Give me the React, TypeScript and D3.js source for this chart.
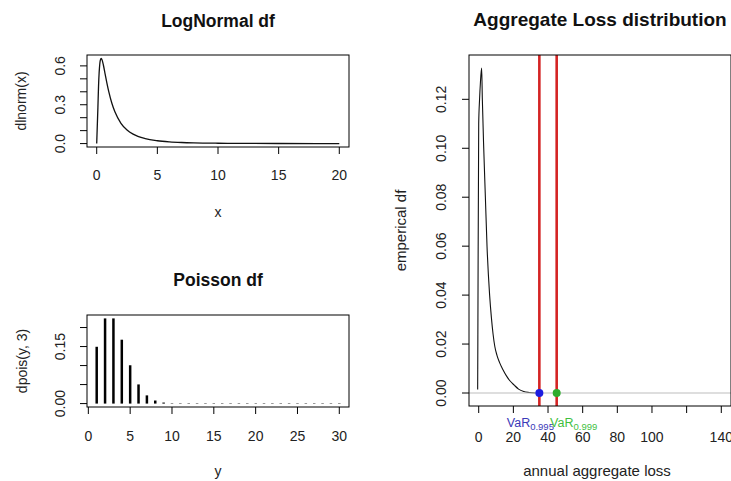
import React from 'react';
import * as d3 from 'd3';

// LogNormal density
const lnX = [0, 0.1, 0.15, 0.2, 0.25, 0.3, 0.37, 0.45, 0.55, 0.7, 0.85, 1, 1.25, 1.5, 2, 2.5, 3, 4, 5, 6, 7, 8, 10, 12, 15, 20];
const lnY = [0, 0.2815, 0.4399, 0.5463, 0.6105, 0.6442, 0.6577, 0.6445, 0.6067, 0.5348, 0.4632, 0.3989, 0.3113, 0.245, 0.1569, 0.1049, 0.0727, 0.0382, 0.0219, 0.0134, 0.0086, 0.0057, 0.0028, 0.0015, 0.0007, 0.0002];

// Poisson(3) probabilities for y = 1..30
const poisY = d3.range(1, 31);
const poisP = [0.1494, 0.224, 0.224, 0.168, 0.1008, 0.0504, 0.0216, 0.0081, 0.0027, 0.0008, 0.0002, 0.00006, 0.00001, 0, 0, 0, 0, 0, 0, 0, 0, 0, 0, 0, 0, 0, 0, 0, 0, 0];

// empirical aggregate loss density
const aggX = [-0.6, -0.5, 0, 0.5, 1, 1.7, 2.1, 2.9, 3.85, 4.8, 6.3, 7.3, 8.3, 9.3, 10.5, 12, 14, 16, 18, 20.5, 23, 26, 29, 33];
const aggY = [0.0014, 0.02, 0.11, 0.12, 0.127, 0.1328, 0.12, 0.1, 0.08, 0.06, 0.04, 0.031, 0.024, 0.019, 0.0155, 0.0125, 0.0095, 0.007, 0.005, 0.0032, 0.0016, 0.0006, 0.0002, 0];
const var995 = 35;
const var999 = 45;

// ticks / labels
const lnXTicks = [0, 5, 10, 15, 20];
const lnYTicks = [0, 0.1, 0.2, 0.3, 0.4, 0.5, 0.6];
const lnYLabels = ['0.0', '0.3', '0.6'];
const poXTicks = [0, 5, 10, 15, 20, 25, 30];
const poYTicks = [0, 0.05, 0.1, 0.15, 0.2];
const poYLabels = ['0.00', '0.15'];
const agXTicks = [0, 20, 40, 60, 80, 100, 120, 140];
const agXLabels = ['0', '20', '40', '60', '80', '100', '140'];
const agYTicks = [0, 0.02, 0.04, 0.06, 0.08, 0.1, 0.12];

const FONT = '"Liberation Sans", Arial, sans-serif';

// R's default 4% axis padding
const rRange = (lo: number, hi: number): [number, number] => {
  const pad = (hi - lo) * 0.04;
  return [lo - pad, hi + pad];
};

type Box = { left: number; right: number; top: number; bottom: number };

const Frame = ({ b }: { b: Box }) => (
  <rect x={b.left} y={b.top} width={b.right - b.left} height={b.bottom - b.top} fill="none" stroke="#000" strokeWidth={1} />
);

const XAxis = ({ b, scale, ticks, labels, base }: any) => (
  <g>
    {ticks.map((t: number) => (
      <line key={t} x1={scale(t)} x2={scale(t)} y1={b.bottom} y2={b.bottom + 7} stroke="#000" />
    ))}
    {ticks.map((t: number, i: number) => {
      const lab = labels ? labels.find((l: string) => +l === t) : String(t);
      if (lab === undefined) return null;
      return (
        <text key={'l' + i} x={scale(t)} y={base} textAnchor="middle" fontSize={14} fontFamily={FONT} fill="#222">
          {lab}
        </text>
      );
    })}
  </g>
);

const YAxis = ({ b, scale, ticks, labels, base }: any) => (
  <g>
    {ticks.map((t: number) => (
      <line key={t} x1={b.left - 7} x2={b.left} y1={scale(t)} y2={scale(t)} stroke="#000" />
    ))}
    {ticks.map((t: number, i: number) => {
      const lab = labels ? labels.find((l: string) => Math.abs(+l - t) < 1e-9) : t.toFixed(2);
      if (lab === undefined) return null;
      return (
        <text key={'l' + i} transform={`translate(${base},${scale(t)}) rotate(-90)`} textAnchor="middle" fontSize={14} fontFamily={FONT} fill="#222">
          {lab}
        </text>
      );
    })}
  </g>
);

const App = () => {
  const bLN: Box = { left: 87, right: 349, top: 55, bottom: 147 };
  const bPo: Box = { left: 87, right: 349, top: 315, bottom: 407 };
  const bAg: Box = { left: 469, right: 731, top: 55, bottom: 406 };

  const lnx = d3.scaleLinear().domain(rRange(0, 20)).range([bLN.left, bLN.right]);
  const lny = d3.scaleLinear().domain(rRange(0, d3.max(lnY)!)).range([bLN.bottom, bLN.top]);
  const pox = d3.scaleLinear().domain(rRange(1, 30)).range([bPo.left, bPo.right]);
  const poy = d3.scaleLinear().domain(rRange(0, d3.max(poisP)!)).range([bPo.bottom, bPo.top]);
  const agx = d3.scaleLinear().domain(rRange(0, 140)).range([bAg.left, bAg.right]);
  const agy = d3.scaleLinear().domain(rRange(0, d3.max(aggY)!)).range([bAg.bottom, bAg.top]);

  const lnLine = d3.line<number>().x((_, i) => lnx(lnX[i])).y((d) => lny(d)).curve(d3.curveMonotoneX);
  const agLine = d3.line<number>().x((_, i) => agx(aggX[i])).y((d) => agy(d)).curve(d3.curveMonotoneX);

  const midLN = (bLN.left + bLN.right) / 2;
  const midAg = (bAg.left + bAg.right) / 2;

  return (
    <svg width={731} height={481} style={{ position: 'absolute', left: 0, top: 0, background: '#fff' }}>
      <defs>
        <clipPath id="agclip">
          <rect x={bAg.left} y={bAg.top} width={bAg.right - bAg.left} height={bAg.bottom - bAg.top} />
        </clipPath>
      </defs>
      <rect width={731} height={481} fill="#fff" />

      {/* LogNormal df */}
      <text x={midLN} y={27} textAnchor="middle" fontSize={17.5} fontWeight="bold" fontFamily={FONT} fill="#111">LogNormal df</text>
      <path d={lnLine(lnY) || ''} fill="none" stroke="#111" strokeWidth={1.3} />
      <Frame b={bLN} />
      <XAxis b={bLN} scale={lnx} ticks={lnXTicks} base={180} />
      <YAxis b={bLN} scale={lny} ticks={lnYTicks} labels={lnYLabels} base={65} />
      <text x={midLN} y={217} textAnchor="middle" fontSize={14} fontFamily={FONT} fill="#222">x</text>
      <text transform={`translate(26,${(bLN.top + bLN.bottom) / 2}) rotate(-90)`} textAnchor="middle" fontSize={14} fontFamily={FONT} fill="#222">dlnorm(x)</text>

      {/* Poisson df */}
      <text x={midLN} y={286} textAnchor="middle" fontSize={17.5} fontWeight="bold" fontFamily={FONT} fill="#111">Poisson df</text>
      {poisY.map((y, i) => (
        <line key={y} x1={pox(y)} x2={pox(y)} y1={poy(0)} y2={Math.min(poy(poisP[i]), poy(0) - 0.4)} stroke="#000" strokeWidth={2.5} strokeLinecap="butt" />
      ))}
      <Frame b={bPo} />
      <XAxis b={bPo} scale={pox} ticks={poXTicks} base={441} />
      <YAxis b={bPo} scale={poy} ticks={poYTicks} labels={poYLabels} base={65} />
      <text x={midLN} y={476} textAnchor="middle" fontSize={14} fontFamily={FONT} fill="#222">y</text>
      <text transform={`translate(27,${(bPo.top + bPo.bottom) / 2}) rotate(-90)`} textAnchor="middle" fontSize={14} fontFamily={FONT} fill="#222">dpois(y, 3)</text>

      {/* Aggregate Loss distribution */}
      <text x={midAg} y={26} textAnchor="middle" fontSize={19} fontWeight="bold" fontFamily={FONT} fill="#111">Aggregate Loss distribution</text>
      <g clipPath="url(#agclip)">
        <path d={agLine(aggY) || ''} fill="none" stroke="#111" strokeWidth={1.1} />
        <line x1={bAg.left} x2={bAg.right} y1={agy(0)} y2={agy(0)} stroke="#bdbdbd" strokeWidth={1.2} />
        {[var995, var999].map((v) => (
          <line key={v} x1={agx(v)} x2={agx(v)} y1={bAg.top} y2={bAg.bottom} stroke="#d42424" strokeWidth={2.6} />
        ))}
      </g>
      <circle cx={agx(var995)} cy={agy(0)} r={4} fill="#1c1ce0" />
      <circle cx={agx(var999)} cy={agy(0)} r={4} fill="#2eac2e" />
      <Frame b={bAg} />
      <XAxis b={bAg} scale={agx} ticks={agXTicks} labels={agXLabels} base={441.5} />
      <YAxis b={bAg} scale={agy} ticks={agYTicks} base={446} />
      <text x={agx(var995) - 9} y={427} textAnchor="middle" fontSize={12.5} fontFamily={FONT} fill="#3a3ab8">
        VaR<tspan fontSize={9.5} dy={3}>0.995</tspan>
      </text>
      <text x={agx(var999) + 17} y={427} textAnchor="middle" fontSize={12.5} fontFamily={FONT} fill="#3fbf3f">
        VaR<tspan fontSize={9.5} dy={3}>0.999</tspan>
      </text>
      <text x={597} y={476} textAnchor="middle" fontSize={15} fontFamily={FONT} fill="#222">annual aggregate loss</text>
      <text transform={`translate(406,${(bAg.top + bAg.bottom) / 2}) rotate(-90)`} textAnchor="middle" fontSize={15} fontFamily={FONT} fill="#222">emperical df</text>
    </svg>
  );
};

export default App;
